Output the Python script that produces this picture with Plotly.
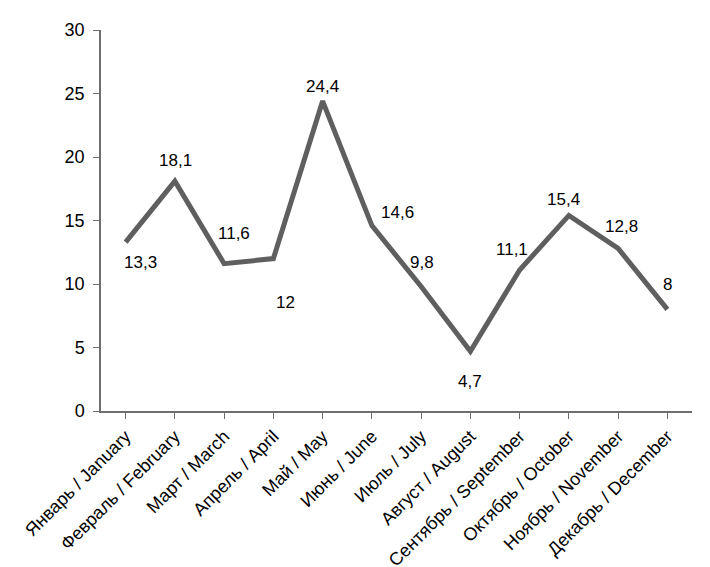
import plotly.graph_objects as go

months = ["Январь / January", "Февраль / February", "Март / March", "Апрель / April",
          "Май / May", "Июнь / June", "Июль / July", "Август / August",
          "Сентябрь / September", "Октябрь / October", "Ноябрь / November", "Декабрь / December"]
values = [13.3, 18.1, 11.6, 12, 24.4, 14.6, 9.8, 4.7, 11.1, 15.4, 12.8, 8]
labels = ["13,3", "18,1", "11,6", "12", "24,4", "14,6", "9,8", "4,7", "11,1", "15,4", "12,8", "8"]
# label pixel offsets (x, y) relative to the point
offsets = [(15, -20), (1, 21), (10, 30), (12, -44), (0, 15), (26, 13),
           (1, 24), (0, -30), (-8, 21), (-5, 16), (3, 22), (0, 25)]

fig = go.Figure()
fig.add_trace(go.Scatter(x=list(range(len(months))), y=values, mode="lines",
                         line=dict(color="#5f5f5f", width=5), hoverinfo="skip"))

for i, (v, lab, off) in enumerate(zip(values, labels, offsets)):
    fig.add_annotation(x=i, y=v, text=lab, showarrow=False, xshift=off[0], yshift=off[1],
                       font=dict(family="Liberation Sans, Arial", size=17, color="black"))

fig.update_layout(
    width=710, height=567,
    margin=dict(l=93, r=26, t=22, b=164, autoexpand=False),
    paper_bgcolor="white", plot_bgcolor="white",
    showlegend=False,
    font=dict(family="Liberation Sans, Arial", color="black"),
)
fig.update_xaxes(
    range=[-0.5, 11.5], tickmode="array", tickvals=list(range(len(months))), ticktext=months,
    tickangle=-45, tickfont=dict(size=18), showgrid=False, zeroline=False,
    showline=True, linecolor="#6e6e6e", linewidth=1.5,
    ticks="outside", ticklen=6, tickcolor="#6e6e6e",
)
fig.update_yaxes(
    range=[0, 30], tickvals=[0, 5, 10, 15, 20, 25, 30], tickfont=dict(size=18),
    showgrid=False, zeroline=False, showline=True, linecolor="#6e6e6e", linewidth=1.5,
    ticks="outside", ticklen=6, tickcolor="#6e6e6e", ticklabelstandoff=5,
)

fig.write_html("out.html")
